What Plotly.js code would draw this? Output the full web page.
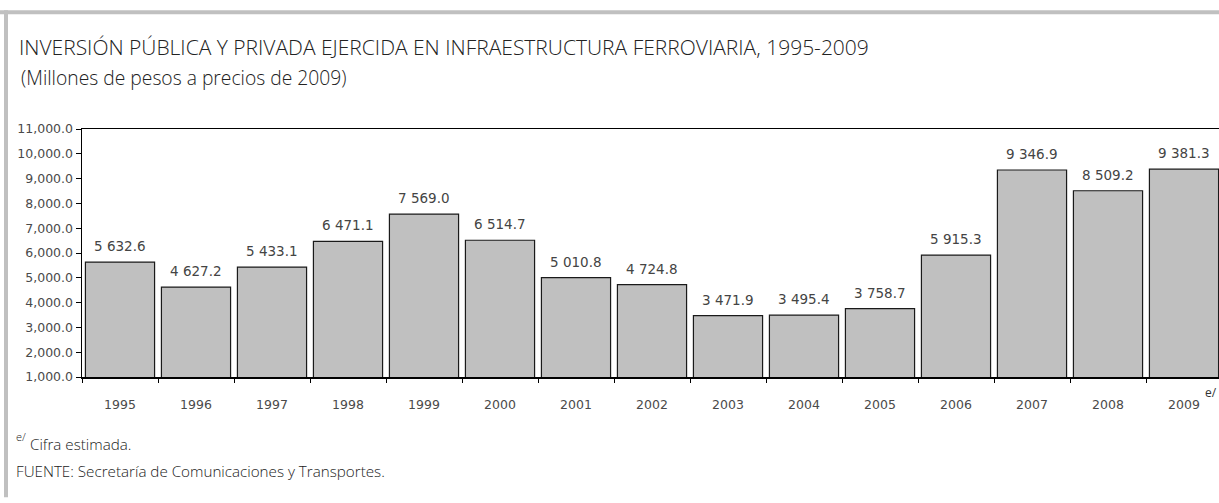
<!DOCTYPE html>
<html>
<head>
<meta charset="utf-8">
<script src="https://cdn.plot.ly/plotly-3.0.1.min.js"></script>
<style>
html,body{margin:0;padding:0;background:#fff;}
#chart{width:1219px;height:503px;}
</style>
</head>
<body>
<div id="chart"></div>
<script>
const years = ["1995","1996","1997","1998","1999","2000","2001","2002","2003","2004","2005","2006","2007","2008","2009"];
const inversion = [5632.6, 4627.2, 5433.1, 6471.1, 7569.0, 6514.7, 5010.8, 4724.8, 3471.9, 3495.4, 3758.7, 5915.3, 9346.9, 8509.2, 9381.3];
const yTickVals = [1000,2000,3000,4000,5000,6000,7000,8000,9000,10000,11000];

const titleText = "INVERSIÓN PÚBLICA Y PRIVADA EJERCIDA EN INFRAESTRUCTURA FERROVIARIA, 1995-2009";
const subtitleText = "(Millones de pesos a precios de 2009)";
const noteText = "Cifra estimada.";
const sourceText = "FUENTE: Secretaría de Comunicaciones y Transportes.";

const W = 1219, H = 503;
const ML = 82, MR = 0, MT = 129, MB = 125.5;
const PW = W - ML - MR, PH = H - MT - MB;
const CAT = 76;
const px = x => (x - ML) / PW;
const py = y => (H - MB - y) / PH;

function fmt(v){
  const s = v.toFixed(1);
  const [i, d] = s.split(".");
  return i.replace(/\B(?=(\d{3})+(?!\d))/g, " ") + "." + d;
}

const trace = {
  type: "bar",
  x: years,
  y: inversion,
  marker: {color: "#c0c0c0", line: {color: "#1a1a1a", width: 1.2}},
  hoverinfo: "x+y"
};

const annotations = years.map((yr, i) => ({
  x: i, y: inversion[i], xref: "x", yref: "y",
  text: fmt(inversion[i]), showarrow: false,
  yanchor: "bottom", yshift: 6,
  font: {family: "DejaVu Sans", size: 13.5, color: "#444"}
}));

annotations.push({
  x: years.length - 1, y: py(393), xref: "x", yref: "paper", xshift: 27,
  text: "e/", showarrow: false, yanchor: "middle",
  font: {family: "Open Sans", size: 12, color: "#333"}
});
annotations.push({
  x: px(19), y: py(77), xref: "paper", yref: "paper",
  text: subtitleText, showarrow: false, xanchor: "left", yanchor: "middle",
  font: {family: "Open Sans", size: 19.3, weight: 300, color: "#222"}
});
annotations.push({
  x: px(14), y: py(437), xref: "paper", yref: "paper",
  text: "e/", showarrow: false, xanchor: "left", yanchor: "middle",
  font: {family: "Open Sans", size: 11, weight: 300, color: "#222"}
});
annotations.push({
  x: px(28), y: py(445), xref: "paper", yref: "paper",
  text: noteText, showarrow: false, xanchor: "left", yanchor: "middle",
  font: {family: "Open Sans", size: 15.2, weight: 300, color: "#222"}
});
annotations.push({
  x: px(14), y: py(472), xref: "paper", yref: "paper",
  text: sourceText, showarrow: false, xanchor: "left", yanchor: "middle",
  font: {family: "Open Sans", size: 15.2, weight: 300, color: "#222"}
});

const shapes = [
  {type: "rect", xref: "paper", yref: "paper", x0: px(0), x1: px(W), y0: py(10), y1: py(14),
   fillcolor: "#c0c0c0", line: {width: 0}, layer: "below"},
  {type: "rect", xref: "paper", yref: "paper", x0: px(4), x1: px(8), y0: py(10), y1: py(498),
   fillcolor: "#c0c0c0", line: {width: 0}, layer: "below"}
];

const layout = {
  width: W, height: H,
  margin: {l: ML, r: MR, t: MT, b: MB, pad: 0},
  paper_bgcolor: "#fff", plot_bgcolor: "#fff",
  showlegend: false,
  bargap: 0.09,
  title: {
    text: titleText, xref: "container", yref: "container",
    x: 19 / W, xanchor: "left", y: 1 - 48 / H, yanchor: "middle",
    font: {family: "Open Sans", size: 21, weight: 300, color: "#222"}
  },
  xaxis: {
    type: "category",
    range: [-0.5, -0.5 + PW / CAT],
    showline: true, linecolor: "#000", linewidth: 1.5, mirror: true,
    ticks: "outside", tickson: "boundaries", ticklen: 4, tickcolor: "#000", tickwidth: 1,
    ticklabelstandoff: 15,
    tickfont: {family: "DejaVu Sans", size: 12.5, color: "#4a4a4a"},
    showgrid: false, zeroline: false, fixedrange: true
  },
  yaxis: {
    range: [1000, 11000],
    tickvals: yTickVals, tickformat: ",.1f",
    showline: true, linecolor: "#000", linewidth: 1.5,
    ticks: "outside", ticklen: 5, tickcolor: "#000", tickwidth: 1,
    tickfont: {family: "DejaVu Sans", size: 12.5, color: "#4a4a4a"},
    showgrid: false, zeroline: false, fixedrange: true
  },
  annotations: annotations,
  shapes: shapes
};

Plotly.newPlot("chart", [trace], layout, {displayModeBar: false, staticPlot: true});
</script>
</body>
</html>
